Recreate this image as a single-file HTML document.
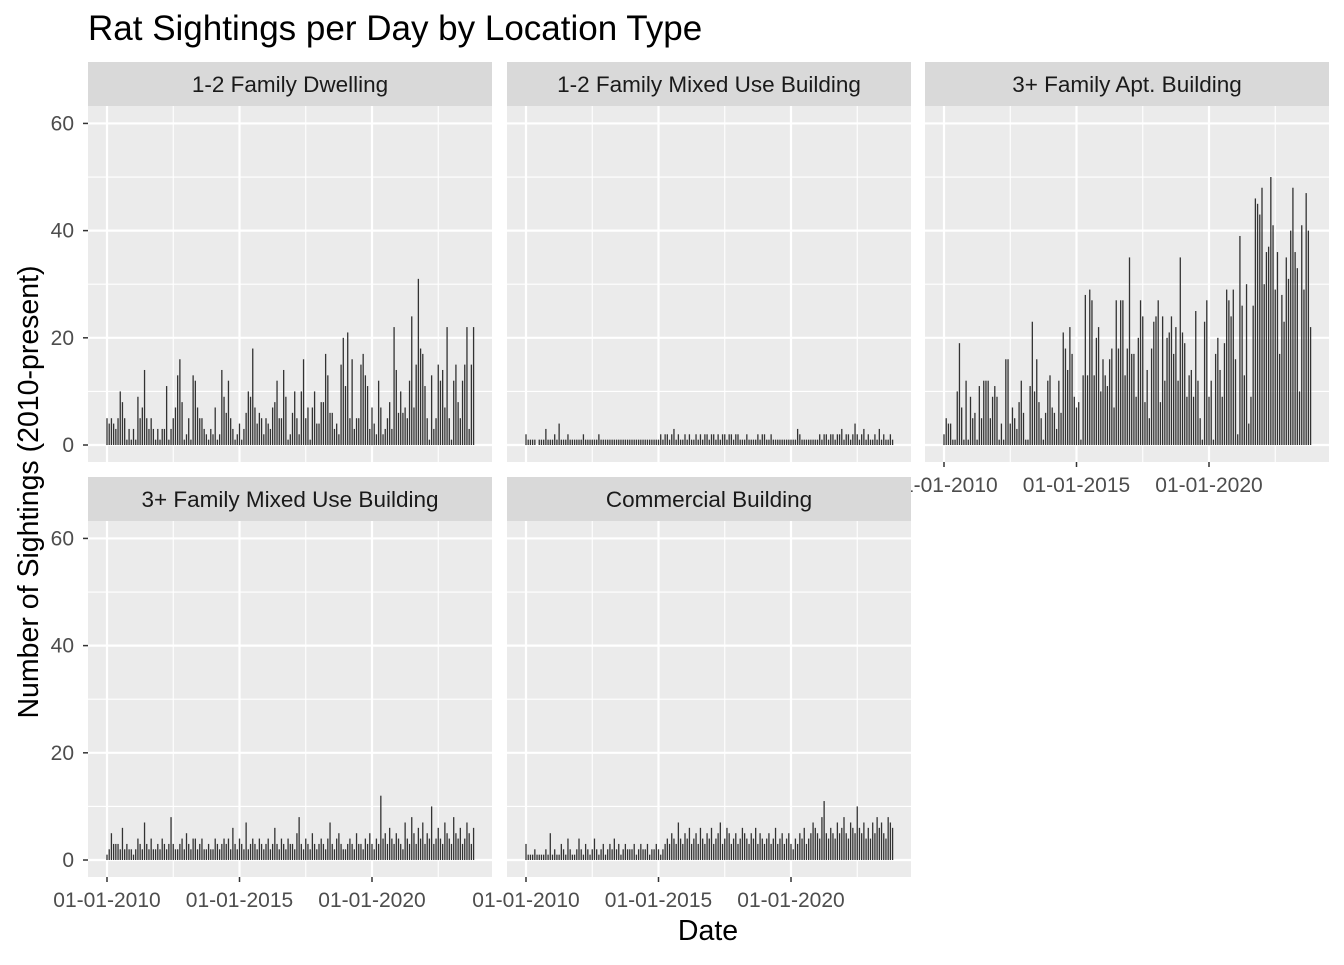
<!DOCTYPE html>
<html><head><meta charset="utf-8"><style>
body{margin:0;background:#fff;font-family:"Liberation Sans",Arial,sans-serif}
svg text{font-family:"Liberation Sans",Arial,sans-serif}
</style></head><body>
<svg id="chart" width="1344" height="960" viewBox="0 0 1344 960" xmlns="http://www.w3.org/2000/svg">
<rect width="1344" height="960" fill="#fff"/>
<text x="88" y="40" font-size="35" fill="#000">Rat Sightings per Day by Location Type</text>
<text transform="translate(38,492) rotate(-90)" text-anchor="middle" font-size="28.5" fill="#000">Number of Sightings (2010-present)</text>
<text x="708" y="940" text-anchor="middle" font-size="28.5" fill="#000">Date</text>
<g id="panels"></g>
</svg>
<script>
const panelNames = ["1-2 Family Dwelling","1-2 Family Mixed Use Building","3+ Family Apt. Building","3+ Family Mixed Use Building","Commercial Building"];
const yTicks = [0,20,40,60];
const xTickYears = [2010,2015,2020];
const xTickLabels = ["01-01-2010","01-01-2015","01-01-2020"];
const seriesDwelling = [5,4,5,4,3,5,10,8,5,1,3,1, 3,1,9,5,7,14,5,3,5,3,1,3, 1,3,3,11,1,3,5,7,13,16,8,1, 2,5,1,13,12,7,5,5,3,2,1,3, 2,7,1,2,14,9,6,12,5,3,1,2, 4,1,3,6,10,9,18,7,4,6,5,2, 5,4,3,7,8,12,5,5,14,9,1,2, 6,10,5,2,10,16,5,7,1,7,10,4, 4,8,8,17,13,6,6,3,4,2,15,20, 11,21,5,16,3,5,5,15,17,13,11,3, 7,4,2,12,7,2,3,5,8,3,22,14, 6,10,6,7,5,12,24,7,15,31,18,17, 11,5,1,13,3,5,15,12,14,7,22,5, 1,12,15,8,5,12,15,22,3,15,22];
const seriesMixed12 = [2,1,1,1,1,0,1,1,1,3,1,1, 1,2,1,4,1,1,1,2,1,1,1,1, 1,1,2,1,1,1,1,1,1,2,1,1, 1,1,1,1,1,1,1,1,1,1,1,1, 1,1,1,1,1,1,1,1,1,1,1,1, 1,2,1,2,2,1,2,3,1,2,1,1, 2,1,2,1,1,2,1,2,1,2,2,1, 2,2,1,2,1,2,2,1,2,2,1,2, 2,1,1,1,2,1,1,1,1,2,1,2, 2,1,1,2,1,1,1,1,1,1,1,1, 1,1,1,3,2,1,1,1,1,1,1,1, 1,2,1,2,2,1,2,2,1,2,2,3, 1,2,2,1,2,4,2,1,2,3,1,2, 1,1,2,1,3,1,2,1,1,2,1];
const seriesApt = [2,5,4,4,1,1,10,19,7,1,12,1, 9,5,6,1,11,5,12,12,12,5,9,11, 9,1,4,1,16,16,4,7,5,3,8,12, 6,1,1,11,23,10,16,8,5,1,6,12, 13,7,6,3,12,6,21,18,14,22,17,9, 7,8,1,13,28,13,29,27,13,20,22,10, 16,13,11,16,18,7,27,18,27,27,13,18, 35,17,17,9,20,27,24,8,14,5,18,23, 24,27,8,24,12,20,21,24,17,22,12,35, 21,19,9,13,14,9,25,12,5,1,23,27, 9,12,1,17,20,14,9,19,29,27,24,29, 16,2,39,26,13,30,4,9,26,46,45,43, 48,30,36,37,50,41,29,36,17,28,23,35, 31,40,48,36,33,10,41,29,47,40,22];
const seriesMixed3 = [1,2,5,3,3,3,2,6,2,3,2,2, 1,2,4,3,2,7,3,2,4,2,2,3, 2,4,3,2,3,8,3,2,2,3,4,2, 5,3,2,4,4,2,3,4,2,2,3,2, 2,4,3,2,3,4,3,4,2,6,3,2, 4,3,2,7,2,3,4,3,2,4,3,2, 3,4,2,3,6,3,2,4,3,2,4,3, 3,2,5,8,3,2,4,3,2,5,3,2, 3,4,3,2,4,7,3,2,4,5,3,2, 2,3,4,3,2,5,3,3,2,4,3,5, 3,2,4,3,12,4,5,3,6,4,3,5, 4,3,2,7,4,3,8,5,3,6,4,7, 3,5,4,10,3,4,6,4,3,7,5,4, 3,8,5,4,6,3,4,7,5,3,6];
const seriesCommercial = [3,1,1,1,2,1,1,1,1,2,1,5, 1,2,1,1,3,2,1,4,2,1,1,2, 4,2,1,3,2,1,2,4,2,1,2,3, 1,2,3,2,4,2,3,1,2,3,2,2, 2,3,1,2,3,2,2,3,1,2,2,3, 2,1,2,3,4,3,5,4,3,7,4,3, 5,4,6,3,4,5,3,6,4,3,5,4, 6,3,4,5,7,3,4,6,5,3,4,5, 3,4,6,5,4,3,5,4,6,3,5,4, 3,4,5,3,4,6,3,4,5,3,4,5, 3,2,4,3,5,4,6,3,4,5,7,6, 5,4,8,11,5,4,6,5,4,7,5,6, 8,5,4,7,6,5,10,6,5,7,4,6, 4,7,5,8,6,7,5,4,8,7,6];
const allSeries = [seriesDwelling, seriesMixed12, seriesApt, seriesMixed3, seriesCommercial];

const NS = "http://www.w3.org/2000/svg";
const root = document.getElementById("panels");
const PW = 404, PH = 356;
const layout = [[88,106],[507,106],[925,106],[88,521],[507,521]];
const xMin = 2010 - 19/26.5, xMax = 2010 + 385/26.5;
const yMin = -3.17, yMax = 63.25;
function mk(tag, attrs, parent){const e=document.createElementNS(NS,tag);for(const k in attrs)e.setAttribute(k,attrs[k]);parent.appendChild(e);return e;}

panelNames.forEach((name, p) => {
  const [px, py] = layout[p];
  const xs = v => px + (v - xMin) / (xMax - xMin) * PW;
  const ys = v => py + PH - (v - yMin) / (yMax - yMin) * PH;
  const g = mk("g", {}, root);
  
  
  const strip = mk("rect", {x:px, y:py-44, width:PW, height:44, fill:"#d9d9d9"}, g);
  
  
  const st = mk("text", {x:px+PW/2, y:py-14, "text-anchor":"middle", "font-size":"22.5", fill:"#1a1a1a"}, g);
  st.textContent = name;
  
  
  const bg = mk("rect", {x:px, y:py, width:PW, height:PH, fill:"#ebebeb"}, g);
  
  
  [10,30,50].forEach(v => mk("line", {x1:px, x2:px+PW, y1:ys(v), y2:ys(v), stroke:"#fff", "stroke-width":1.1}, g));
  [2012.5,2017.5,2022.5].forEach(v => mk("line", {x1:xs(v), x2:xs(v), y1:py, y2:py+PH, stroke:"#fff", "stroke-width":1.1}, g));
  yTicks.forEach(v => mk("line", {x1:px, x2:px+PW, y1:ys(v), y2:ys(v), stroke:"#fff", "stroke-width":2.2}, g));
  xTickYears.forEach(v => mk("line", {x1:xs(v), x2:xs(v), y1:py, y2:py+PH, stroke:"#fff", "stroke-width":2.2}, g));
  const data = allSeries[p];
  data.forEach((v, i) => {
    const x = xs(2010 + i/12);
    const b = mk("rect", {x:x-0.65, y:ys(v), width:1.3, height:Math.max(0, ys(0)-ys(v)), fill:"#333"}, g);
    
    
  });
  if (p === 0 || p === 3) {
    yTicks.forEach(v => {
      mk("line", {x1:px-5, x2:px, y1:ys(v), y2:ys(v), stroke:"#333", "stroke-width":1.5}, g);
      const t = mk("text", {x:px-14, y:ys(v)+7, "text-anchor":"end", "font-size":"21", fill:"#4d4d4d"}, g);
      t.textContent = v;
      
      
    });
  }
  if (p >= 2) {
    xTickYears.forEach((v, k) => {
      mk("line", {x1:xs(v), x2:xs(v), y1:py+PH, y2:py+PH+5, stroke:"#333", "stroke-width":1.5}, g);
      const t = mk("text", {x:xs(v), y:py+PH+30, "text-anchor":"middle", "font-size":"21", fill:"#4d4d4d"}, g);
      t.textContent = xTickLabels[k];
      
      
    });
  }
});
</script>
</body></html>
